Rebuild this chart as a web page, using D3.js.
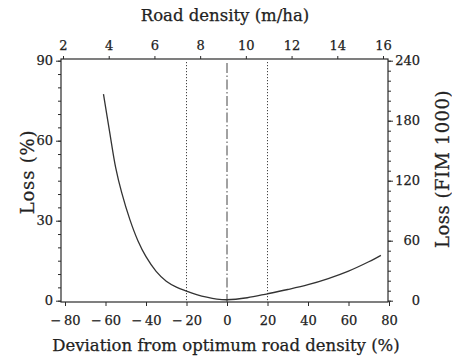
<!DOCTYPE html>
<html>
<head>
<meta charset="utf-8">
<script src="https://cdn.jsdelivr.net/npm/d3@7"></script>
<style>
  body { margin: 0; background: #fff; }
  svg text { font-family: "DejaVu Serif", "Liberation Serif", serif; fill: #222; stroke: #222; stroke-width: 0.25px; }
</style>
</head>
<body>
<div id="chart"></div>
<script>
// deviation from optimum road density (%) and loss (%)
const deviation = [-61, -58, -55, -52, -48, -44, -40, -35, -30, -25, -20, -15, -10, -5, 0, 10, 20, 30, 40, 50, 60, 70, 76];
const lossPct   = [77.5, 63.5, 50, 40.5, 30.5, 22.5, 16.5, 11, 7.3, 5.1, 3.6, 2.3, 1.3, 0.6, 0.35, 1.1, 2.6, 4.2, 6.0, 8.3, 11.1, 14.6, 17.0];

const devTicks = [-80, -60, -40, -20, 0, 20, 40, 60, 80];
const densityTicks = [2, 4, 6, 8, 10, 12, 14, 16];
const lossTicks = [0, 30, 60, 90];
const fimTicks = [0, 60, 120, 180, 240];
const dottedAt = [-20, 20];
const optimumAt = 0;

const width = 452, height = 358;
const frame = { left: 61, right: 388, top: 59, bottom: 302 };
const ink = '#2a2a2a';

const svg = d3.select('#chart').append('svg')
  .attr('width', width)
  .attr('height', height);

const x = d3.scaleLinear().domain([-80, 80]).range([65, 389]);
const xTop = d3.scaleLinear().domain([2, 16]).range([63, 383]);
const y = d3.scaleLinear().domain([0, 90]).range([300.7, 60.7]);
const yRight = d3.scaleLinear().domain([0, 240]).range([300.7, 60.7]);

const fmtDev = d => d < 0 ? '\u2212\u2009' + Math.abs(d) : String(d);

function styleAxis(g) {
  g.select('.domain').remove();
  g.selectAll('line').attr('stroke', ink).attr('stroke-width', 1);
  g.selectAll('text').style('font-size', '13px');
}

// minor ticks on the side axes
svg.append('g')
  .attr('transform', `translate(${frame.left},0)`)
  .call(d3.axisLeft(y).tickValues(d3.range(0, 91, 5)).tickSize(3).tickFormat(''))
  .call(styleAxis);
svg.append('g')
  .attr('transform', `translate(${frame.right},0)`)
  .call(d3.axisRight(yRight).tickValues(d3.range(0, 241, 10)).tickSize(3).tickFormat(''))
  .call(styleAxis);

// major axes
svg.append('g')
  .attr('transform', `translate(${frame.left},0)`)
  .call(d3.axisLeft(y).tickValues(lossTicks).tickSize(5).tickPadding(3))
  .call(styleAxis);

svg.append('g')
  .attr('transform', `translate(${frame.right},0)`)
  .call(d3.axisRight(yRight).tickValues(fimTicks).tickSize(5).tickPadding(6))
  .call(styleAxis)
  .call(g => g.selectAll('text').attr('text-anchor', 'end').attr('x', 32));

svg.append('g')
  .attr('transform', `translate(0,${frame.bottom})`)
  .call(d3.axisBottom(x).tickValues(devTicks).tickSize(4).tickPadding(10).tickFormat(fmtDev))
  .call(styleAxis);

svg.append('g')
  .attr('transform', `translate(0,${frame.top})`)
  .call(d3.axisTop(xTop).tickValues(densityTicks).tickSize(3).tickPadding(6))
  .call(styleAxis);

// frame
svg.append('rect')
  .attr('x', frame.left)
  .attr('y', frame.top)
  .attr('width', frame.right - frame.left)
  .attr('height', frame.bottom - frame.top)
  .attr('fill', 'none')
  .attr('stroke', ink)
  .attr('stroke-width', 1.2);

// reference lines
svg.selectAll('.dotted')
  .data(dottedAt)
  .join('line')
  .attr('class', 'dotted')
  .attr('x1', d => x(d)).attr('x2', d => x(d))
  .attr('y1', 62).attr('y2', frame.bottom)
  .attr('stroke', '#444')
  .attr('stroke-width', 1)
  .attr('stroke-dasharray', '1.2,1.8');

svg.append('line')
  .attr('x1', x(optimumAt)).attr('x2', x(optimumAt))
  .attr('y1', 63).attr('y2', frame.bottom)
  .attr('stroke', '#444')
  .attr('stroke-width', 1)
  .attr('stroke-dasharray', '10,2.5,1.5,2.5');

// loss curve
const points = deviation.map((d, i) => [d, lossPct[i]]);
svg.append('path')
  .datum(points)
  .attr('fill', 'none')
  .attr('stroke', '#333')
  .attr('stroke-width', 1.3)
  .attr('d', d3.line()
    .x(d => x(d[0]))
    .y(d => y(d[1]))
    .curve(d3.curveCatmullRom.alpha(0.5)));

// titles
svg.append('text')
  .attr('x', 225).attr('y', 21)
  .attr('text-anchor', 'middle')
  .style('font-size', '16.5px')
  .text('Road density (m/ha)');

svg.append('text')
  .attr('x', 226).attr('y', 351)
  .attr('text-anchor', 'middle')
  .style('font-size', '16.5px')
  .text('Deviation from optimum road density (%)');

svg.append('text')
  .attr('transform', 'translate(34,172) rotate(-90)')
  .attr('text-anchor', 'middle')
  .style('font-size', '18px')
  .style('letter-spacing', '0.8px')
  .text('Loss (%)');

svg.append('text')
  .attr('transform', 'translate(449,169) rotate(-90)')
  .attr('text-anchor', 'middle')
  .style('font-size', '18px')
  .style('letter-spacing', '0.5px')
  .text('Loss (FIM 1000)');
</script>
</body>
</html>
